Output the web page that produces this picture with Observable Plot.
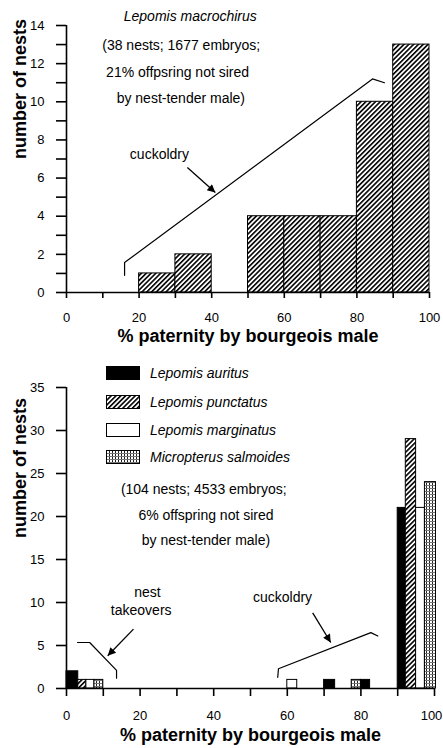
<!DOCTYPE html>
<html><head><meta charset="utf-8">
<script src="https://cdn.jsdelivr.net/npm/d3@7"></script>
<script src="https://cdn.jsdelivr.net/npm/@observablehq/plot@0.6"></script>
<style>
body{margin:0;background:#fff;font-family:"Liberation Sans",Arial,sans-serif;}
#wrap{position:relative;width:443px;height:748px;overflow:hidden;}
#wrap > svg.plotsvg{display:block;}
.lg{position:absolute;left:106px;height:14px;display:flex;align-items:center;}
.lg span{position:absolute;left:44px;white-space:nowrap;font-style:italic;font-size:14px;color:#000;}
</style></head><body>
<div id="wrap">
<svg width="0" height="0" style="position:absolute">
<defs>
<pattern id="hatch" patternUnits="userSpaceOnUse" width="3.4" height="3.4" patternTransform="rotate(45)">
<rect width="3.4" height="3.4" fill="white"/><rect width="1.6" height="3.4" fill="black"/></pattern>
<pattern id="grid" patternUnits="userSpaceOnUse" width="3" height="3">
<rect width="3" height="3" fill="white"/><rect width="1" height="3" fill="#222"/><rect width="3" height="1" fill="#777"/></pattern>
<marker id="ah" viewBox="0 0 10 10" refX="10" refY="5" markerWidth="12" markerHeight="8" markerUnits="userSpaceOnUse" orient="auto"><path d="M0,0L10,5L0,10z" fill="black"/></marker>
</defs></svg>
</div>
<script>
// ---------- Top panel data (Lepomis macrochirus) ----------
const topBinStart = [20, 30, 50, 60, 70, 80, 90];
const topBinEnd   = [30, 40, 60, 70, 80, 90, 100];
const topCounts   = [1, 2, 4, 4, 4, 10, 13];

const topTitle = "Lepomis macrochirus";
const topNoteLines = ["(38 nests; 1677 embryos;", "21% offpsring not sired", "by nest-tender male)"];
const topNoteX = [31.6, 30.6, 31.5];
const topNoteY = [12.95, 11.55, 10.16];
const topBracketX = [16, 16, 84.3, 87.6];
const topBracketY = [0.9, 1.57, 11.2, 11.0];
const topArrowFrom = [33.3, 6.55];
const topArrowTo = [41, 5.24];

// ---------- Bottom panel data ----------
const speciesNames = ["Lepomis auritus", "Lepomis punctatus", "Lepomis marginatus", "Micropterus salmoides"];
const auritusX1 = [0, 70, 80, 90],        auritusX2 = [3.2, 73, 82.5, 92.2],     auritusN = [2, 1, 1, 21];
const punctatusX1 = [3.2, 92.2],          punctatusX2 = [5.4, 95],              punctatusN = [1, 29];
const marginatusX1 = [5.4, 60, 95],       marginatusX2 = [7.6, 62.7, 97.4],     marginatusN = [1, 1, 21];
const salmoidesX1 = [7.6, 77.5, 97.4],    salmoidesX2 = [10, 80, 100.4],        salmoidesN = [1, 1, 24];

const botNoteLines = ["(104 nests; 4533 embryos;", "6% offspring not sired", "by nest-tender male)"];
const botNoteX = [37.3, 37.9, 37.9];
const botNoteY = [23.1, 20.1, 17.2];
const takeoverLines = ["nest", "takeovers"];
const takeoverX = [22, 20.3];
const takeoverY = [11.2, 9.07];
const takeBracketX = [3, 6.3, 13.6, 13.6];
const takeBracketY = [5.35, 5.35, 2.1, 1.2];
const takeArrowFrom = [18.2, 6.9], takeArrowTo = [11.2, 3.8];
const cuckLabel = {x: 58.7, y: 10.6};
const cuckBracketX = [57.4, 57.6, 82.7, 84.6];
const cuckBracketY = [1.3, 2.3, 6.5, 6.1];
const cuckArrowFrom = [66.9, 8.8], cuckArrowTo = [71.8, 5.35];

const xLabel = "% paternity by bourgeois male";
const yLabel = "number of nests";

// ---------- build tables ----------
const topBars = topBinStart.map((s, i) => ({x1: s, x2: topBinEnd[i], n: topCounts[i]}));
const pts = (xs, ys) => xs.map((x, i) => ({x, y: ys[i]}));
const mk = (sp, x1, x2, n) => x1.map((v, i) => ({sp, x1: v, x2: x2[i], n: n[i]}));
const fills = {
  "Lepomis auritus": "black",
  "Lepomis punctatus": "url(#hatch)",
  "Lepomis marginatus": "white",
  "Micropterus salmoides": "url(#grid)"
};
const botBars = [
  ...mk(speciesNames[0], auritusX1, auritusX2, auritusN),
  ...mk(speciesNames[1], punctatusX1, punctatusX2, punctatusN),
  ...mk(speciesNames[2], marginatusX1, marginatusX2, marginatusN),
  ...mk(speciesNames[3], salmoidesX1, salmoidesX2, salmoidesN)
];

const style = {fontFamily: '"Liberation Sans", Arial, sans-serif', fontSize: "13px", color: "black", background: "white", overflow: "visible"};

const topPlot = Plot.plot({
  width: 443, height: 347,
  marginLeft: 66, marginRight: 14, marginTop: 25, marginBottom: 55,
  x: {domain: [0, 100]}, y: {domain: [0, 14]},
  style,
  marks: [
    Plot.rect(topBars, {x1: "x1", x2: "x2", y1: 0, y2: "n", fill: "url(#hatch)", stroke: "black", strokeWidth: 1}),
    Plot.ruleY([0], {strokeWidth: 1.6}),
    Plot.ruleX([0], {strokeWidth: 1.6}),
    Plot.axisX({ticks: d3.range(0, 101, 10), tickFormat: d => d % 20 === 0 ? String(d) : "", tickSize: 6, tickPadding: 14, strokeWidth: 1.6, label: null}),
    Plot.axisY({ticks: d3.range(0, 15), tickFormat: d => d % 2 === 0 ? String(d) : "", tickSize: 10, tickPadding: 12, strokeWidth: 1.6, label: null}),
    Plot.line(pts(topBracketX, topBracketY), {x: "x", y: "y", stroke: "black", strokeWidth: 1.2}),
    Plot.link([{x1: topArrowFrom[0], y1: topArrowFrom[1], x2: topArrowTo[0], y2: topArrowTo[1]}], {x1: "x1", y1: "y1", x2: "x2", y2: "y2", stroke: "black", strokeWidth: 1.3}),
    Plot.text([topTitle], {x: 34.1, y: 14.47, text: d => d, fontSize: 14, fontStyle: "italic"}),
    Plot.text(topNoteLines, {x: (d, i) => topNoteX[i], y: (d, i) => topNoteY[i], text: d => d, fontSize: 14}),
    Plot.text(["cuckoldry"], {x: 25.6, y: 7.24, text: d => d, fontSize: 14}),
    Plot.text([xLabel], {frameAnchor: "bottom", dy: 49, text: d => d, fontSize: 18, fontWeight: "bold"}),
    Plot.text([yLabel], {frameAnchor: "left", dx: -46, rotate: -90, text: d => d, fontSize: 18, fontWeight: "bold"})
  ]
});

const botPlot = Plot.plot({
  width: 443, height: 401,
  marginLeft: 66, marginRight: 9, marginTop: 40, marginBottom: 60,
  x: {domain: [0, 100]}, y: {domain: [0, 35]},
  style,
  marks: [
    Plot.rect(botBars, {x1: "x1", x2: "x2", y1: 0, y2: "n", fill: d => fills[d.sp], stroke: "black", strokeWidth: 1}),
    Plot.ruleY([0], {strokeWidth: 1.6}),
    Plot.ruleX([0], {strokeWidth: 1.6}),
    Plot.axisX({ticks: d3.range(0, 101, 10), tickFormat: d => (d % 20 === 0 && d < 100) ? String(d) : "", tickSize: 8, tickPadding: 14, strokeWidth: 1.6, label: null}),
    Plot.axisX({ticks: [100], tickFormat: d => String(d), tickSize: 0, tickPadding: 22, dx: -3, label: null}),
    Plot.axisY({ticks: d3.range(0, 36, 5), tickSize: 10, tickPadding: 12, strokeWidth: 1.6, label: null}),
    Plot.line(pts(takeBracketX, takeBracketY), {x: "x", y: "y", stroke: "black", strokeWidth: 1.2}),
    Plot.line(pts(cuckBracketX, cuckBracketY), {x: "x", y: "y", stroke: "black", strokeWidth: 1.2}),
    Plot.link([
      {x1: takeArrowFrom[0], y1: takeArrowFrom[1], x2: takeArrowTo[0], y2: takeArrowTo[1]},
      {x1: cuckArrowFrom[0], y1: cuckArrowFrom[1], x2: cuckArrowTo[0], y2: cuckArrowTo[1]}
    ], {x1: "x1", y1: "y1", x2: "x2", y2: "y2", stroke: "black", strokeWidth: 1.3}),
    Plot.text(botNoteLines, {x: (d, i) => botNoteX[i], y: (d, i) => botNoteY[i], text: d => d, fontSize: 14}),
    Plot.text(takeoverLines, {x: (d, i) => takeoverX[i], y: (d, i) => takeoverY[i], text: d => d, fontSize: 14}),
    Plot.text(["cuckoldry"], {x: cuckLabel.x, y: cuckLabel.y, text: d => d, fontSize: 14}),
    Plot.text([xLabel], {frameAnchor: "bottom", dy: 52, text: d => d, fontSize: 18, fontWeight: "bold"}),
    Plot.text([yLabel], {frameAnchor: "left", dx: -46, rotate: -90, text: d => d, fontSize: 18, fontWeight: "bold"})
  ]
});

const wrap = document.getElementById("wrap");
for (const p of [topPlot, botPlot]) {
  p.classList.add("plotsvg");
  p.querySelectorAll('g[aria-label="link"] path, g[aria-label="link"] line').forEach(el => el.setAttribute("marker-end", "url(#ah)"));
  wrap.appendChild(p);
}

// legend (HTML overlay)
const legendTops = [366, 395, 423, 450];
speciesNames.forEach((name, i) => {
  const row = document.createElement("div");
  row.className = "lg";
  row.style.top = legendTops[i] + "px";
  row.innerHTML = `<svg width="34" height="14"><rect x="0.5" y="0.5" width="33" height="13" fill="${fills[name]}" stroke="black" stroke-width="1"/></svg><span>${name}</span>`;
  wrap.appendChild(row);
});
</script>
</body></html>
